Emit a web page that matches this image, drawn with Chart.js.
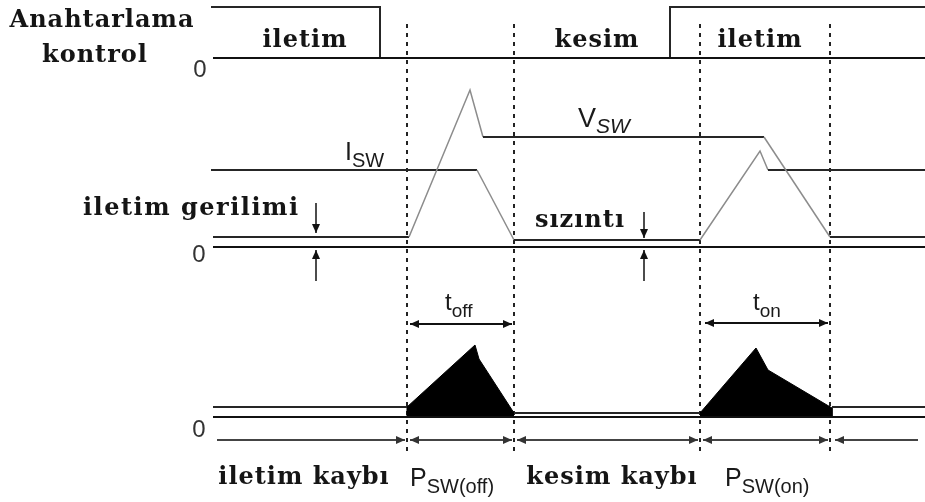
<!DOCTYPE html>
<html>
<head>
<meta charset="utf-8">
<script src="https://cdn.jsdelivr.net/npm/chart.js@4.4.0/dist/chart.umd.min.js"></script>
<style>
  html, body { margin: 0; padding: 0; background: #fff; }
</style>
</head>
<body>
<canvas id="chart" width="925" height="502"></canvas>
<script>
// --- waveforms: time on x, level above each trace's own zero line on y ---
const ctrlT = [211, 380, 380, 670, 670, 925];
const ctrlV = [51, 51, 0, 0, 51, 51];

const vswT = [213, 409, 470, 483, 764, 830, 925];
const vswV = [10, 10, 157, 110, 110, 10, 10];

const iswT = [211, 477, 514, 700, 760, 768, 925];
const iswV = [77, 77, 7, 7, 96, 77, 77];

// switching loss pulses (filled) and the flat loss levels between them
const pOffT = [407, 407, 475, 479, 514];
const pOffV = [0, 10, 72, 58, 4];
const pOnT = [700, 756, 768, 832, 832];
const pOnV = [4, 69, 47, 9, 0];
const pLevelT = [213, 407, null, 514, 700, null, 832, 925];
const pLevelV = [10, 10, null, 4, 4, null, 10, 10];

const zeroT = [213, 925];
const edgeT = [407, 514, 700, 830];        // switching instants
const spanT = [[217, 405], [410, 512], [517, 698], [703, 828], [835, 918]];

// vertical placement of the three traces (zero line, px from top)
const H = 502;
const rowCtrl = 58, rowWave = 247, rowPow = 417;

const pts = (ts, vs, row) => ts.map((t, i) =>
  ({ x: t, y: (t === null || vs[i] === null) ? null : H - row + vs[i] }));

const DARK = "#262626", GRAY = "#8c8c8c";
const sloped = (ctx) => ctx.p0.parsed.x !== ctx.p1.parsed.x && ctx.p0.parsed.y !== ctx.p1.parsed.y;

const trace = (data, extra) => Object.assign({
  data, borderColor: DARK, borderWidth: 2, pointRadius: 0, fill: false,
  segment: {
    borderColor: (ctx) => sloped(ctx) ? GRAY : DARK,
    borderWidth: (ctx) => sloped(ctx) ? 1.5 : 2
  }
}, extra || {});

function arrow(ctx, x1, y1, x2, y2, headA, headB) {
  const a = Math.atan2(y2 - y1, x2 - x1), L = 9, W = 4;
  ctx.beginPath(); ctx.moveTo(x1, y1); ctx.lineTo(x2, y2); ctx.stroke();
  const head = (x, y, ang) => {
    ctx.beginPath();
    ctx.moveTo(x, y);
    ctx.lineTo(x - L * Math.cos(ang) + W * Math.sin(ang), y - L * Math.sin(ang) - W * Math.cos(ang));
    ctx.lineTo(x - L * Math.cos(ang) - W * Math.sin(ang), y - L * Math.sin(ang) + W * Math.cos(ang));
    ctx.closePath(); ctx.fill();
  };
  if (headB) head(x2, y2, a);
  if (headA) head(x1, y1, a + Math.PI);
}

const guidesPlugin = {
  id: "guides",
  beforeDatasetsDraw(chart) {
    const { ctx, scales: { x } } = chart;
    ctx.save();
    ctx.strokeStyle = "#222";
    ctx.lineWidth = 2;
    ctx.setLineDash([4, 5]);
    edgeT.forEach(t => {
      const px = Math.round(x.getPixelForValue(t));
      ctx.beginPath(); ctx.moveTo(px, 24); ctx.lineTo(px, 456); ctx.stroke();
    });
    ctx.restore();
  }
};

function subLabel(ctx, main, sub, x, y, size, subSize, dy, italic) {
  ctx.font = `${size}px "Liberation Sans", Arial, sans-serif`;
  ctx.textAlign = "left";
  ctx.fillText(main, x, y);
  const w = ctx.measureText(main).width;
  ctx.font = `${italic ? "italic " : ""}${subSize}px "Liberation Sans", Arial, sans-serif`;
  ctx.fillText(sub, x + w, y + dy);
}

const labelsPlugin = {
  id: "labels",
  afterDraw(chart) {
    const { ctx, scales: { x } } = chart;
    ctx.save();
    ctx.lineWidth = 2;

    // interval arrows under the power trace
    ctx.strokeStyle = "#444"; ctx.fillStyle = "#333";
    spanT.forEach(([a, b], i) => {
      arrow(ctx, x.getPixelForValue(a), 440, x.getPixelForValue(b), 440, i > 0, i < spanT.length - 1);
    });
    ctx.strokeStyle = "#111"; ctx.fillStyle = "#111";
    arrow(ctx, x.getPixelForValue(410), 324, x.getPixelForValue(512), 324, true, true);
    arrow(ctx, x.getPixelForValue(705), 323, x.getPixelForValue(828), 323, true, true);

    // small level markers
    ctx.lineWidth = 1.5;
    arrow(ctx, 316, 203, 316, 233, false, true);
    arrow(ctx, 316, 281, 316, 250, false, true);
    arrow(ctx, 644, 212, 644, 238, false, true);
    arrow(ctx, 644, 281, 644, 250, false, true);

    // serif captions
    ctx.fillStyle = "#151515";
    ctx.font = 'bold 24px "DejaVu Serif", serif';
    ctx.textBaseline = "alphabetic";
    ctx.letterSpacing = "1px";
    ctx.textAlign = "center";
    [["Anahtarlama", 102, 27], ["kontrol", 95, 62], ["iletim", 305, 47],
     ["kesim", 597, 47], ["iletim", 760, 47], ["sızıntı", 580, 227],
     ["iletim kaybı", 304, 484], ["kesim kaybı", 612, 484]]
      .forEach(([s, px, py]) => ctx.fillText(s, px, py));
    ctx.textAlign = "left";
    ctx.letterSpacing = "1.5px";
    ctx.fillText("iletim gerilimi", 83, 215);
    ctx.letterSpacing = "0px";

    // zero marks
    ctx.fillStyle = "#333";
    ctx.font = '24px "Liberation Sans", Arial, sans-serif';
    ctx.textAlign = "center";
    [[200, 77], [199, 262], [199, 437]].forEach(([px, py]) => ctx.fillText("0", px, py));

    ctx.fillStyle = "#1a1a1a";
    subLabel(ctx, "V", "SW", 578, 127, 27, 21, 6, true);
    subLabel(ctx, "I", "SW", 345, 160, 25, 20, 7, false);
    subLabel(ctx, "t", "off", 445, 310, 24, 19, 7, false);
    subLabel(ctx, "t", "on", 753, 310, 24, 19, 7, false);
    subLabel(ctx, "P", "SW(off)", 410, 486, 25, 20, 7, false);
    subLabel(ctx, "P", "SW(on)", 725, 486, 25, 20, 7, false);
    ctx.restore();
  }
};

const zeroLine = (row) => ({
  data: pts(zeroT, [0, 0], row), borderColor: "#111", borderWidth: 2, pointRadius: 0, fill: false
});

new Chart(document.getElementById("chart"), {
  type: "line",
  data: {
    datasets: [
      zeroLine(rowCtrl),
      zeroLine(rowWave),
      zeroLine(rowPow),
      trace(pts(ctrlT, ctrlV, rowCtrl)),
      trace(pts(vswT, vswV, rowWave)),
      trace(pts(iswT, iswV, rowWave)),
      trace(pts(pLevelT, pLevelV, rowPow), { spanGaps: false }),
      { data: pts(pOffT, pOffV, rowPow), borderColor: "#000", borderWidth: 1, pointRadius: 0,
        backgroundColor: "#000", fill: { value: H - rowPow } },
      { data: pts(pOnT, pOnV, rowPow), borderColor: "#000", borderWidth: 1, pointRadius: 0,
        backgroundColor: "#000", fill: { value: H - rowPow } }
    ]
  },
  options: {
    responsive: false,
    animation: false,
    layout: { padding: 0 },
    elements: { line: { tension: 0 } },
    plugins: { legend: { display: false }, tooltip: { enabled: false } },
    scales: {
      x: { type: "linear", min: 0, max: 925, display: false },
      y: { type: "linear", min: 0, max: H, display: false }
    }
  },
  plugins: [guidesPlugin, labelsPlugin]
});
</script>
</body>
</html>
